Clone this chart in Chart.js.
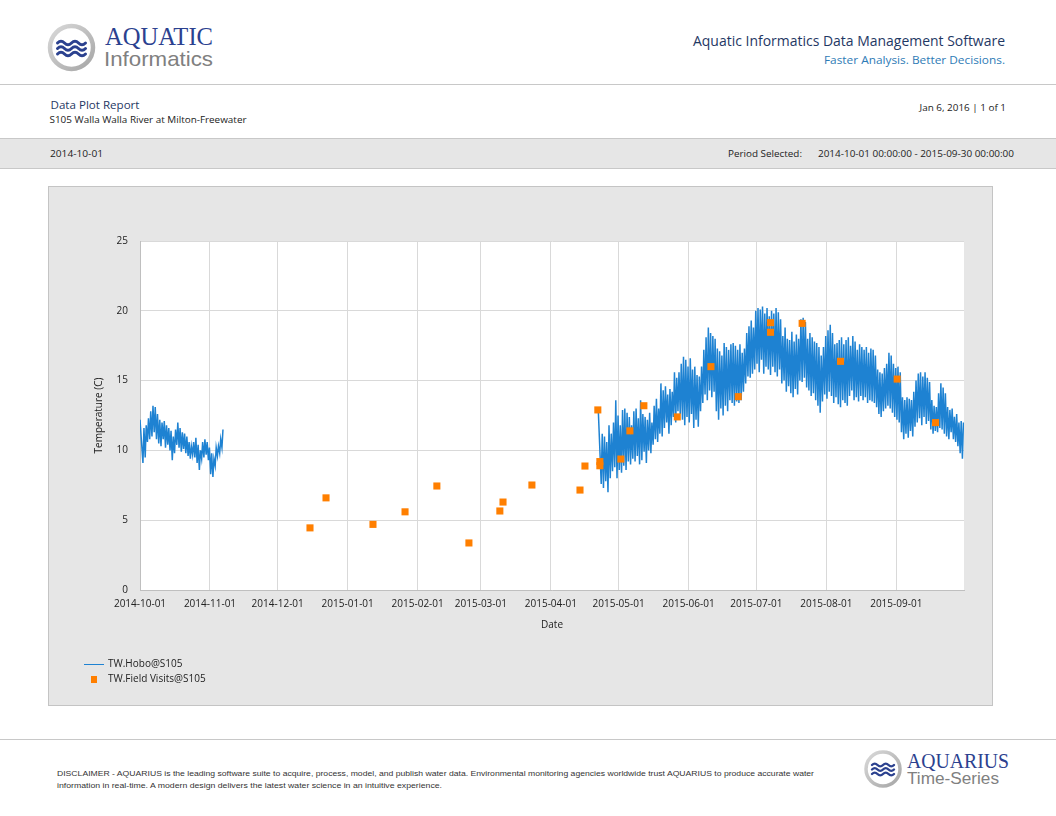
<!DOCTYPE html>
<html>
<head>
<meta charset="utf-8">
<title>Data Plot Report</title>
<script src="https://cdn.jsdelivr.net/npm/chart.js@4.4.0/dist/chart.umd.min.js"></script>
<style>
  html, body { margin: 0; padding: 0; background: #fff; }
  #page { position: relative; width: 1056px; height: 816px; overflow: hidden; font-family: "Open Sans", "Noto Sans", sans-serif; }
  #art { position: absolute; left: 0; top: 0; }
  #chartBox { position: absolute; left: 48px; top: 186px; width: 945px; height: 520px; background: #e6e6e6; border: 1px solid #c4c4c4; box-sizing: border-box; }
  #chartBox canvas { position: absolute; left: 0; top: 0; }
  .legend { position: absolute; left: 35px; font-size: 10px; color: #222; line-height: 12px; }
  .legend .key { display: inline-block; vertical-align: middle; margin-right: 4px; }
</style>
</head>
<body>
<div id="page">
  <svg id="art" width="1056" height="816" xmlns="http://www.w3.org/2000/svg">
    <defs>
      <linearGradient id="ring" x1="0" y1="0" x2="1" y2="1">
        <stop offset="0" stop-color="#d9d9d9"/>
        <stop offset="1" stop-color="#a6a6a6"/>
      </linearGradient>
    </defs>
    <!-- header logo -->
    <circle cx="71.5" cy="47.5" r="21.5" fill="#fff" stroke="url(#ring)" stroke-width="4.5"/>
    <g fill="none" stroke="#2b418f" stroke-width="3" stroke-linecap="round">
      <path d="M57.5,43 q3.5,-3.5 7,0 t7,0 t7,0 t7,0"/>
      <path d="M57.5,48.5 q3.5,-3.5 7,0 t7,0 t7,0 t7,0"/>
      <path d="M57.5,54 q3.5,-3.5 7,0 t7,0 t7,0 t7,0"/>
    </g>
    <text x="105" y="45" font-family="Liberation Serif, serif" font-size="25" fill="#2b418f" textLength="108" lengthAdjust="spacingAndGlyphs">AQUATIC</text>
    <text x="104" y="65.5" font-family="Liberation Sans, sans-serif" font-size="21" fill="#808080" textLength="109" lengthAdjust="spacingAndGlyphs">Informatics</text>

    <text x="693" y="46" font-family="Open Sans, sans-serif" font-size="14" fill="#1f3864" textLength="312" lengthAdjust="spacingAndGlyphs">Aquatic Informatics Data Management Software</text>
    <text x="824" y="64" font-family="Open Sans, sans-serif" font-size="11.5" fill="#2e7bb6" textLength="181" lengthAdjust="spacingAndGlyphs">Faster Analysis. Better Decisions.</text>

    <line x1="0" y1="84.5" x2="1056" y2="84.5" stroke="#c8c8c8" stroke-width="1"/>

    <text x="50.5" y="109" font-family="Open Sans, sans-serif" font-size="11.5" fill="#1f3864" textLength="89" lengthAdjust="spacingAndGlyphs">Data Plot Report</text>
    <text x="49.5" y="123" font-family="Open Sans, sans-serif" font-size="9.5" fill="#222" textLength="197" lengthAdjust="spacingAndGlyphs">S105 Walla Walla River at Milton-Freewater</text>
    <text x="919.5" y="111" font-family="Open Sans, sans-serif" font-size="9.5" fill="#222" textLength="86.5" lengthAdjust="spacingAndGlyphs">Jan 6, 2016 | 1 of 1</text>

    <rect x="-1" y="138.5" width="1058" height="30" fill="#e6e6e6" stroke="#c8c8c8" stroke-width="1"/>
    <text x="50" y="156.5" font-family="Open Sans, sans-serif" font-size="9.5" fill="#222" textLength="53" lengthAdjust="spacingAndGlyphs">2014-10-01</text>
    <text x="728" y="156.5" font-family="Open Sans, sans-serif" font-size="9.5" fill="#222" textLength="74" lengthAdjust="spacingAndGlyphs">Period Selected:</text>
    <text x="818" y="156.5" font-family="Open Sans, sans-serif" font-size="9.5" fill="#222" textLength="196" lengthAdjust="spacingAndGlyphs">2014-10-01 00:00:00 - 2015-09-30 00:00:00</text>

    <!-- footer -->
    <line x1="0" y1="739.5" x2="1056" y2="739.5" stroke="#c8c8c8" stroke-width="1"/>
    <text x="57" y="776" font-family="Liberation Sans Narrow, Liberation Sans, sans-serif" font-size="8" fill="#333" textLength="757" lengthAdjust="spacingAndGlyphs">DISCLAIMER - AQUARIUS is the leading software suite to acquire, process, model, and publish water data. Environmental monitoring agencies worldwide trust AQUARIUS to produce accurate water</text>
    <text x="57" y="788" font-family="Liberation Sans Narrow, Liberation Sans, sans-serif" font-size="8" fill="#333" textLength="385" lengthAdjust="spacingAndGlyphs">information in real-time. A modern design delivers the latest water science in an intuitive experience.</text>

    <circle cx="883" cy="769" r="17" fill="#fff" stroke="url(#ring)" stroke-width="3.5"/>
    <g fill="none" stroke="#2b418f" stroke-width="2.4" stroke-linecap="round">
      <path d="M872,765 q2.75,-2.8 5.5,0 t5.5,0 t5.5,0 t5.5,0"/>
      <path d="M872,769.5 q2.75,-2.8 5.5,0 t5.5,0 t5.5,0 t5.5,0"/>
      <path d="M872,774 q2.75,-2.8 5.5,0 t5.5,0 t5.5,0 t5.5,0"/>
    </g>
    <text x="907" y="768" font-family="Liberation Serif, serif" font-size="21" fill="#2b418f" textLength="102" lengthAdjust="spacingAndGlyphs">AQUARIUS</text>
    <text x="907" y="784" font-family="Liberation Sans, sans-serif" font-size="16" fill="#808080" textLength="92" lengthAdjust="spacingAndGlyphs">Time-Series</text>
  </svg>

  <div id="chartBox">
    <canvas id="plot" width="943" height="518"></canvas>
    <div class="legend" style="top:470px;"><span class="key" style="width:20px;height:0;border-top:1.5px solid #1e82d2;"></span>TW.Hobo@S105</div>
    <div class="legend" style="top:485px;"><span class="key" style="width:6px;height:7px;background:#ff7f00;margin-left:7px;margin-right:11px;"></span>TW.Field Visits@S105</div>
  </div>
</div>

<script>
// x axis: days since 2014-10-01, ticks on the first of each month
const tickDays = [0, 31, 61, 92, 123, 151, 182, 212, 243, 273, 304, 335];
const tickLabels = ['2014-10-01', '2014-11-01', '2014-12-01', '2015-01-01', '2015-02-01', '2015-03-01',
                    '2015-04-01', '2015-05-01', '2015-06-01', '2015-07-01', '2015-08-01', '2015-09-01'];
const yTicks = [0, 5, 10, 15, 20, 25];

// TW.Hobo@S105 - daily high / low, first logger deployment (from day 0)
const hoboFallStart = 0;
const hoboFallHigh = [12.2, 11.6, 11.8, 12.3, 12.8, 13.2, 13.1, 12.6, 12.2, 12.0, 12.1, 11.8, 11.6, 11.4, 11.0, 11.5, 12.0, 11.6, 11.3, 11.2,
                      11.0, 10.6, 10.3, 10.6, 10.9, 10.4, 10.0, 10.6, 10.8, 10.6, 10.2, 9.8, 9.4, 10.2, 10.3, 10.8, 11.5];
const hoboFallLow = [10.3, 9.1, 9.5, 10.6, 10.8, 11.0, 11.3, 10.8, 10.5, 10.3, 10.8, 10.2, 10.4, 10.0, 9.3, 9.8, 10.4, 10.2, 9.9, 10.1,
                     9.8, 9.6, 9.4, 9.7, 9.5, 9.1, 8.6, 9.4, 9.5, 9.7, 9.3, 8.3, 8.1, 8.9, 9.6, 9.8, 10.2];

// second deployment (from day 203 = 2015-04-22)
const hoboSpringStart = 203;
const hoboSpringHigh = [
  12.9, 11.2, 11.0, 10.6, 11.8, 11.2, 12.0, 13.6, 12.5, 11.8,
  12.9, 13.0, 12.7, 12.4, 11.8, 12.8, 13.0, 12.3, 13.6, 12.6,
  12.4, 12.2, 12.7, 12.0, 13.2, 13.7, 13.0, 14.8, 14.3, 14.6,
  14.0, 14.4, 14.2, 15.6, 15.2, 15.6, 16.2, 16.7, 16.5, 16.0,
  16.6, 15.8, 16.0, 15.4, 15.3, 16.0, 17.2, 18.1, 18.8, 18.4,
  18.2, 18.0, 17.3, 17.1, 16.8, 17.7, 17.4, 17.2, 17.6, 17.7,
  17.5, 17.2, 17.6, 17.0, 17.3, 18.4, 18.9, 19.3, 18.8, 20.0,
  20.2, 20.1, 20.3, 19.8, 20.2, 19.6, 20.0, 19.8, 20.2, 19.9,
  19.4, 18.2, 18.8, 18.0, 17.9, 18.5, 17.8, 18.3, 18.0, 19.4,
  19.5, 19.2, 18.0, 18.4, 18.1, 17.8, 17.7, 17.4, 16.8, 17.4,
  18.2, 18.6, 19.0, 18.4, 17.6, 17.7, 17.9, 18.1, 17.6, 17.9,
  18.1, 17.5, 18.2, 17.8, 17.2, 17.6, 17.4, 17.2, 17.4, 17.0,
  17.3, 17.2, 16.8, 15.8, 15.6, 15.5, 15.9, 16.2, 17.0, 16.8,
  16.2, 15.9, 16.0, 15.6, 13.8, 13.6, 13.8, 13.7, 13.6, 14.2,
  15.0, 15.5, 15.6, 15.3, 15.6, 15.2, 14.9, 13.6, 13.2, 13.1,
  14.1, 14.8, 14.5, 14.1, 13.1, 12.9, 13.0, 12.4, 12.6, 12.0,
  12.1, 12.0];
const hoboSpringLow = [
  9.0, 7.6, 7.3, 7.8, 7.0, 8.0, 8.5, 8.8, 8.0, 8.6,
  8.4, 8.9, 8.6, 9.2, 9.0, 9.4, 9.2, 9.6, 9.0, 9.3,
  9.9, 9.1, 10.0, 9.8, 10.4, 10.8, 10.6, 11.2, 11.0, 11.6,
  12.0, 11.2, 11.8, 12.4, 12.0, 12.8, 12.6, 12.2, 11.8, 12.4,
  12.0, 12.6, 11.6, 12.2, 11.7, 12.8, 13.4, 14.0, 13.6, 14.3,
  13.8, 14.2, 12.8, 12.2, 13.0, 12.5, 13.2, 12.8, 13.6, 13.4,
  13.2, 13.5, 13.4, 13.6, 14.2, 14.8, 15.3, 15.2, 15.5, 15.8,
  16.2, 15.6, 16.5, 15.5, 16.0, 15.8, 15.4, 16.0, 15.6, 15.3,
  15.8, 14.8, 15.0, 14.2, 14.6, 14.1, 13.8, 14.4, 14.0, 15.0,
  14.9, 15.2, 14.5, 14.3, 13.9, 14.1, 13.6, 13.2, 12.7, 13.5,
  14.0, 13.7, 14.2, 13.9, 13.4, 13.8, 13.3, 13.1, 13.6, 13.4,
  13.2, 13.9, 14.3, 13.6, 13.8, 13.5, 13.9, 13.6, 13.8, 13.4,
  13.6, 13.5, 13.4, 13.1, 12.6, 12.4, 12.8, 13.0, 13.2, 13.0,
  12.7, 12.4, 12.2, 12.0, 11.3, 10.8, 11.2, 10.9, 11.4, 11.0,
  11.7, 12.0, 12.3, 11.8, 12.4, 11.9, 12.1, 11.5, 11.2, 11.4,
  11.3, 11.6, 11.5, 11.2, 11.0, 10.8, 11.3, 10.8, 10.6, 10.3,
  9.8, 9.4];

// TW.Field Visits@S105
const visitDays = [75.3, 82.4, 103.2, 117.4, 131.5, 145.7, 159.4, 160.8, 173.6, 194.9, 197.1, 202.8, 203.7, 203.7,
                   213.0, 217.0, 223.2, 238.0, 252.9, 265.0, 279.3, 279.3, 293.3, 310.3, 335.4, 352.4];
const visitTemps = [4.45, 6.6, 4.7, 5.6, 7.45, 3.37, 5.66, 6.3, 7.52, 7.16, 8.88, 12.9, 9.2, 8.9,
                    9.38, 11.4, 13.2, 12.4, 16.0, 13.85, 19.15, 18.46, 19.1, 16.38, 15.11, 11.99];

function dailyPoints(start, highs, lows) {
  const pts = [];
  for (let i = 0; i < highs.length; i++) {
    if (i === 0) {
      pts.push({ x: start + i, y: highs[i] });
    } else {
      pts.push({ x: start + i + 0.3, y: lows[i] });
      pts.push({ x: start + i + 0.75, y: highs[i] });
    }
  }
  return pts;
}

const hoboPoints = dailyPoints(hoboFallStart, hoboFallHigh, hoboFallLow)
  .concat([{ x: 40, y: null }])
  .concat(dailyPoints(hoboSpringStart, hoboSpringHigh, hoboSpringLow));
const visitPoints = visitDays.map((d, i) => ({ x: d, y: visitTemps[i] }));

Chart.defaults.font.family = '"Open Sans", "Noto Sans", sans-serif';
Chart.defaults.font.size = 10;
Chart.defaults.color = '#222';

new Chart(document.getElementById('plot'), {
  type: 'line',
  data: {
    datasets: [
      {
        label: 'TW.Field Visits@S105',
        data: visitPoints,
        showLine: false,
        pointStyle: 'rect',
        pointRadius: 5,
        pointBackgroundColor: '#ff7f00',
        pointBorderWidth: 0,
        order: 0
      },
      {
        label: 'TW.Hobo@S105',
        data: hoboPoints,
        borderColor: '#1e82d2',
        borderWidth: 1.5,
        pointRadius: 0,
        spanGaps: false,
        tension: 0,
        order: 1
      }
    ]
  },
  options: {
    responsive: false,
    animation: false,
    layout: { padding: { left: 36, top: 54, right: 28, bottom: 65 } },
    plugins: {
      legend: { display: false },
      tooltip: { enabled: false }
    },
    scales: {
      x: {
        type: 'linear',
        min: 0,
        max: 365,
        afterBuildTicks: (axis) => { axis.ticks = tickDays.map(v => ({ value: v })); },
        afterFit: (axis) => { axis.height = 50; },
        ticks: {
          autoSkip: false,
          maxRotation: 0,
          padding: 8,
          callback: (value) => tickLabels[tickDays.indexOf(value)]
        },
        grid: { color: '#d9d9d9', drawTicks: false },
        border: { color: '#bfbfbf' },
        title: { display: true, text: 'Date', padding: { top: 4, bottom: 9 } }
      },
      y: {
        min: 0,
        max: 25,
        afterBuildTicks: (axis) => { axis.ticks = yTicks.map(v => ({ value: v })); },
        afterFit: (axis) => { axis.width = 55; },
        ticks: { padding: 12 },
        grid: { color: '#d9d9d9', drawTicks: false },
        border: { color: '#bfbfbf' },
        title: { display: true, text: 'Temperature (C)', padding: { top: 8, bottom: 4 } }
      }
    }
  },
  plugins: [{
    id: 'plotBackground',
    beforeDraw(chart) {
      const { ctx, chartArea } = chart;
      ctx.save();
      ctx.fillStyle = '#ffffff';
      ctx.fillRect(chartArea.left, chartArea.top, chartArea.right - chartArea.left, chartArea.bottom - chartArea.top);
      ctx.restore();
    }
  }]
});
</script>
</body>
</html>
